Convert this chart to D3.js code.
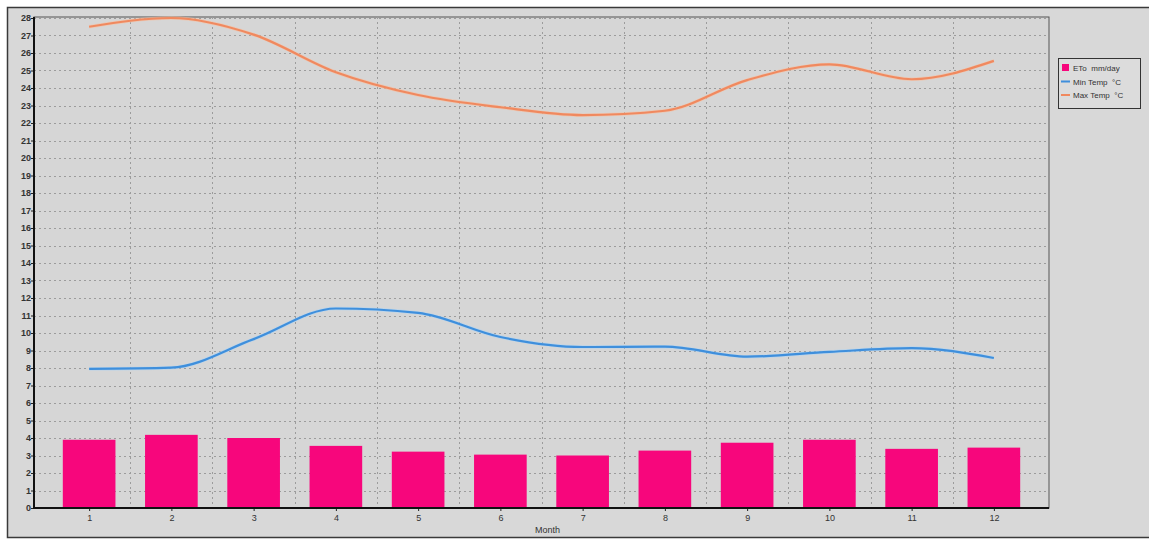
<!DOCTYPE html>
<html><head><meta charset="utf-8">
<script src="https://cdn.jsdelivr.net/npm/d3@7"></script>
<style>
html,body{margin:0;padding:0;background:#fff;}
svg{display:block;font-family:"Liberation Sans",Arial,sans-serif;}
</style></head>
<body>
<svg id="chart" width="1149" height="540"></svg>
<script>
const months = [1,2,3,4,5,6,7,8,9,10,11,12];
const eto = [3.9,4.18,4.0,3.55,3.22,3.05,3.0,3.28,3.73,3.9,3.38,3.45];
const minTemp = [7.95,8.02,9.65,11.4,11.15,9.77,9.2,9.22,8.65,8.92,9.14,8.57];
const maxTemp = [27.5,28.0,27.05,24.9,23.6,22.9,22.45,22.7,24.45,25.35,24.5,25.55];
const yTicks = d3.range(0,29);
const legendLabels = ["ETo  mm/day","Min Temp  °C","Max Temp  °C"];
const colors = {eto:"#f7067c", min:"#3f8fdc", max:"#f0895f"};

const svg = d3.select("#chart");
const plot = {l:34, t:17, r:1049, b:508};

// outer frame
svg.append("rect").attr("x",7.5).attr("y",7.5).attr("width",1160).attr("height",530)
  .attr("fill","#d8d8d8").attr("stroke","#3a3a3a").attr("stroke-width",1.5);
svg.append("rect").attr("x",plot.l).attr("y",plot.t).attr("width",plot.r-plot.l).attr("height",plot.b-plot.t)
  .attr("fill","#d6d6d6").attr("stroke","#555").attr("stroke-width",1);

const x = d3.scaleBand().domain(months).range([plot.l+14, plot.r-14]).paddingInner(0.36).paddingOuter(0.18);
const xc = d => x(d) + x.bandwidth()/2;
const step = x.step();
const y = d3.scaleLinear().domain([0,28]).range([plot.b, plot.t+1]);

// grid
const g = svg.append("g");
g.selectAll(".hg").data(yTicks.slice(1)).join("line")
  .attr("x1",plot.l).attr("x2",plot.r).attr("y1",d=>Math.round(y(d))+0.5).attr("y2",d=>Math.round(y(d))+0.5)
  .attr("stroke","#9c9c9c").attr("stroke-width",1).attr("stroke-dasharray","2,3");
g.selectAll(".vg").data(months.slice(0,-1)).join("line")
  .attr("x1",d=>Math.round(xc(d)+step/2)+0.5).attr("x2",d=>Math.round(xc(d)+step/2)+0.5)
  .attr("y1",plot.t).attr("y2",plot.b)
  .attr("stroke","#9c9c9c").attr("stroke-width",1).attr("stroke-dasharray","2,3");

// bars
svg.append("g").selectAll("rect").data(months).join("rect")
  .attr("x",d=>x(d)).attr("width",x.bandwidth())
  .attr("y",(d,i)=>y(eto[i])).attr("height",(d,i)=>y(0)-y(eto[i]))
  .attr("fill",colors.eto);

// lines
const line = d3.line().x((d,i)=>xc(months[i])).y(d=>y(d)).curve(d3.curveMonotoneX);
svg.append("path").attr("d",line(minTemp)).attr("fill","none").attr("stroke","#a8d4f8").attr("stroke-width",3.5).attr("opacity",0.6);
svg.append("path").attr("d",line(minTemp)).attr("fill","none").attr("stroke",colors.min).attr("stroke-width",2.2);
svg.append("path").attr("d",line(maxTemp)).attr("fill","none").attr("stroke","#f8c0a0").attr("stroke-width",3.5).attr("opacity",0.6);
svg.append("path").attr("d",line(maxTemp)).attr("fill","none").attr("stroke",colors.max).attr("stroke-width",2.2);

// axes
const yAxis = d3.axisLeft(y).tickValues(yTicks).tickSize(3).tickFormat(d3.format("d"));
const ya = svg.append("g").attr("transform",`translate(${plot.l},0)`).call(yAxis);
ya.select(".domain").remove();
ya.selectAll("line").attr("stroke","#222");
ya.selectAll("text").attr("font-size",9).attr("fill","#333").attr("font-weight","bold").attr("x",-3);

const xAxis = d3.axisBottom(d3.scalePoint().domain(months).range([xc(1), xc(12)])).tickSize(3);
const xa = svg.append("g").attr("transform",`translate(0,${plot.b})`).call(xAxis);
xa.select(".domain").remove();
xa.selectAll("line").attr("stroke","#222");
xa.selectAll("text").attr("font-size",9).attr("fill","#333").attr("y",7);

svg.append("line").attr("x1",plot.l).attr("x2",plot.l).attr("y1",plot.t).attr("y2",plot.b+1).attr("stroke","#111").attr("stroke-width",2);
svg.append("line").attr("x1",plot.l).attr("x2",plot.r).attr("y1",plot.b).attr("y2",plot.b).attr("stroke","#111").attr("stroke-width",2);

svg.append("text").attr("x",(plot.l+plot.r)/2+6).attr("y",533).attr("text-anchor","middle")
  .attr("font-size",9).attr("fill","#333").text("Month");

// legend
const lg = svg.append("g").attr("transform","translate(1058,58)");
lg.append("rect").attr("x",0.5).attr("y",0.5).attr("width",82).attr("height",50)
  .attr("fill","#dcdcdc").attr("stroke","#333").attr("stroke-width",1);
const items = lg.selectAll(".it").data(legendLabels).join("g").attr("transform",(d,i)=>`translate(0,${10+i*13.5})`);
items.each(function(d,i){
  const s = d3.select(this);
  if(i===0) s.append("rect").attr("x",4).attr("y",-4).attr("width",7).attr("height",7).attr("fill",colors.eto);
  else s.append("line").attr("x1",3).attr("x2",12).attr("y1",0).attr("y2",0).attr("stroke",i===1?colors.min:colors.max).attr("stroke-width",2);
  s.append("text").attr("x",15).attr("y",3).attr("font-size",8).attr("fill","#333").attr("xml:space","preserve").style("white-space","pre").text(d);
});
</script>
</body></html>
